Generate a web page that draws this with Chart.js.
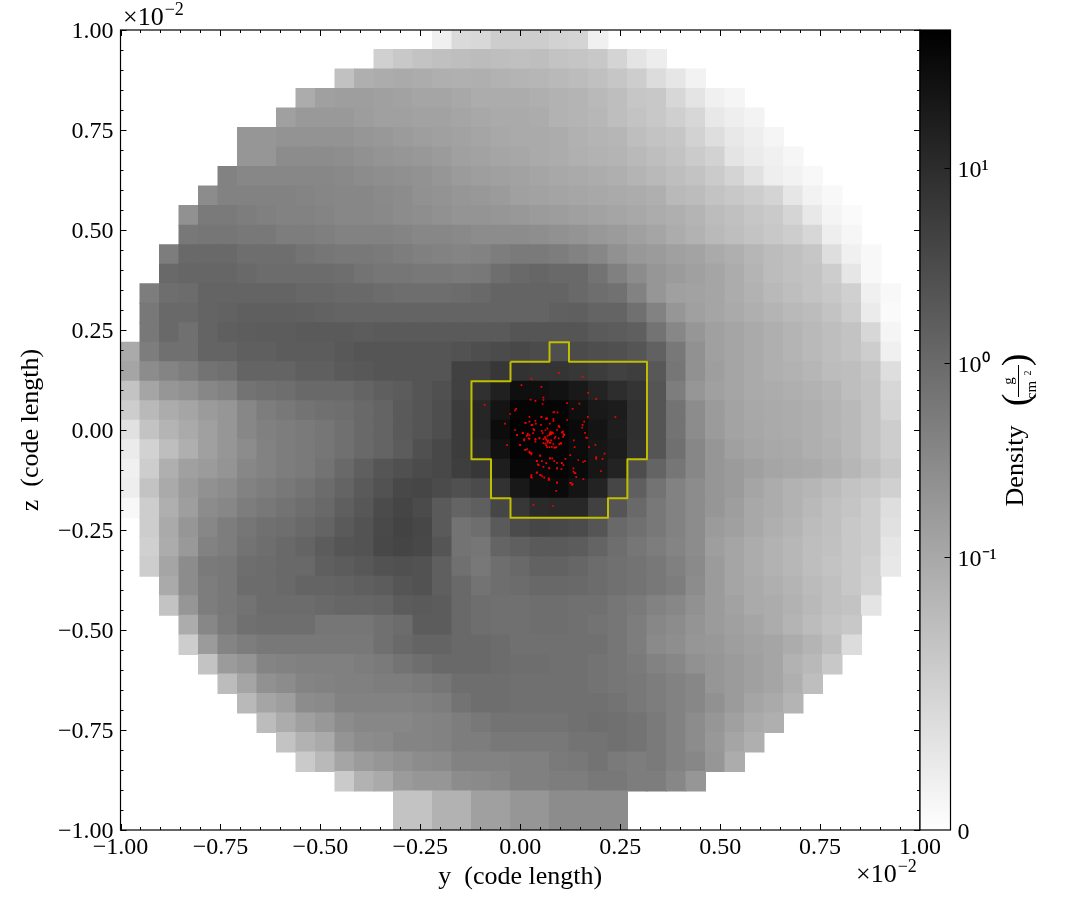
<!DOCTYPE html>
<html>
<head>
<meta charset="utf-8">
<title>Density projection</title>
<script src="https://cdn.jsdelivr.net/npm/chart.js@4"></script>
<style>
  html, body { margin: 0; padding: 0; background: #fff; }
  canvas { position: absolute; left: 0; top: 0; }
  #colorbar { pointer-events: none; }
</style>
</head>
<body>
<canvas id="slice" width="1085" height="920"></canvas>
<canvas id="colorbar" width="1085" height="920"></canvas>
<script>
// grid of the projection, 41 x 41 cells over -1..1 (x 10^-2 code length)
const gridSize = 41;

// first filled column of every row, top row first
const rowStarts = [16,13,11,9,8,6,6,5,4,3,3,2,2,1,1,1,0,0,0,0,0,0,0,0,0,1,1,1,2,2,3,3,4,5,6,7,8,9,11,14,14];

// density per cell, read as position on the colour bar (0 = white, 255 = black)
const densityLevels = [
  [15,37,39,50,50,50,45,43,15],
  [47,55,60,63,65,67,65,63,65,60,58,55,43,27,18],
  [62,80,83,85,83,80,79,80,77,75,73,70,67,63,57,50,35,25,13],
  [83,95,97,97,95,93,90,90,87,83,83,83,80,77,75,70,65,57,55,40,27,15,10],
  [95,102,102,102,98,95,95,93,93,90,87,85,85,83,77,75,72,65,60,55,48,40,23,17,12],
  [105,105,108,108,108,108,105,103,100,97,95,93,90,87,85,85,83,78,75,73,65,60,57,45,33,23,17,10],
  [105,105,115,115,115,113,110,107,105,103,100,95,93,90,88,85,83,79,77,75,70,65,60,52,45,27,20,15,9],
  [125,120,120,120,120,120,118,115,113,111,109,105,100,97,95,93,90,87,85,83,80,75,70,65,60,52,43,30,17,13,7],
  [115,125,125,125,125,123,121,120,120,117,115,110,108,105,103,100,95,93,91,89,87,85,83,80,70,67,60,55,50,43,25,13,7],
  [110,133,133,130,127,125,125,123,120,120,118,115,113,110,107,107,105,103,100,98,95,93,90,87,83,80,75,67,63,57,53,42,23,11,5],
  [135,137,137,135,135,130,130,128,125,125,125,123,120,120,118,115,115,115,113,110,107,103,100,95,90,83,77,70,65,60,55,50,40,17,9],
  [130,150,150,150,145,145,145,140,137,135,135,133,130,127,125,123,125,130,133,133,130,125,120,110,103,100,95,92,85,80,73,67,63,57,33,15,7],
  [150,153,153,153,150,147,147,147,147,145,140,137,137,135,135,133,135,145,150,153,150,150,140,127,115,105,100,95,90,83,75,67,63,60,50,25,7],
  [130,145,147,155,155,155,155,155,152,152,150,150,147,145,145,145,147,150,155,155,155,155,150,145,142,125,105,95,93,90,83,77,70,65,60,55,47,15,7],
  [135,150,150,155,157,160,160,160,159,157,155,155,155,155,155,155,155,155,155,155,155,159,160,155,155,143,125,105,95,90,85,80,75,70,67,60,50,20,5],
  [135,150,143,155,160,162,163,163,165,165,165,163,165,165,165,165,165,165,165,170,170,170,170,165,163,160,140,120,105,95,90,85,80,75,70,65,60,40,10],
  [85,130,143,143,155,155,160,160,163,163,163,167,170,170,170,170,170,173,177,180,183,180,177,180,177,175,170,158,135,110,95,90,85,80,75,70,65,60,50,15],
  [90,115,123,130,140,143,155,155,155,160,160,165,167,170,170,170,170,190,190,200,205,203,203,200,195,190,193,167,137,110,97,90,85,80,77,73,67,65,58,33],
  [60,90,105,110,120,125,140,143,145,150,150,150,155,160,163,170,175,190,207,223,240,240,237,230,220,210,203,170,130,105,95,90,85,83,80,77,73,65,60,40],
  [50,70,83,90,100,105,120,130,135,140,143,145,150,155,165,170,177,195,217,235,250,250,250,240,230,227,207,170,140,115,100,92,87,85,83,80,75,70,60,43],
  [30,60,75,85,95,105,120,127,130,133,137,143,150,155,165,170,177,195,217,243,253,253,252,245,235,225,207,170,140,115,100,92,88,85,83,80,75,70,60,50],
  [20,45,65,80,95,105,115,125,130,133,137,143,150,155,163,175,183,195,213,237,252,252,250,243,233,227,205,170,143,120,105,95,90,87,85,80,77,70,60,50],
  [15,50,80,95,100,107,120,125,130,133,140,150,160,170,175,180,183,193,200,225,247,247,250,245,233,220,178,155,137,120,105,100,95,90,87,85,80,73,65,55],
  [17,60,85,100,110,115,125,130,135,140,147,155,165,173,183,185,180,175,180,205,230,243,245,235,220,185,160,140,125,115,105,100,90,83,77,73,67,60,55,47],
  [7,50,80,97,115,120,130,135,140,145,150,160,168,180,186,180,165,155,160,185,200,213,215,215,190,170,150,135,125,115,105,97,87,83,77,70,63,58,50,33],
  [50,85,105,120,130,137,143,145,150,155,165,172,182,188,184,165,140,145,165,180,185,183,180,170,150,143,135,125,115,100,95,87,80,75,67,63,55,50,30],
  [47,83,102,125,130,140,145,150,155,163,170,172,183,186,183,170,140,137,155,160,165,165,163,155,145,137,130,123,115,97,90,83,77,72,65,62,55,50,25],
  [50,90,115,133,135,145,147,150,150,160,163,167,173,175,173,160,143,135,145,150,157,157,153,147,143,140,135,127,117,100,90,83,77,72,65,60,55,47,23],
  [85,115,130,135,147,147,150,155,155,157,160,163,170,173,160,150,140,145,147,151,151,150,147,143,140,135,130,115,100,90,85,80,75,68,63,55,45],
  [60,105,130,135,140,147,147,147,150,153,153,155,163,165,163,150,145,143,143,145,145,143,143,137,133,125,120,110,100,93,85,83,77,70,63,60,27],
  [83,120,133,143,145,145,145,137,137,137,143,147,163,163,150,145,143,143,145,145,143,140,137,130,120,115,107,100,95,90,83,75,67,60,55],
  [50,100,123,130,135,135,135,135,135,135,143,150,155,155,150,150,147,143,143,143,143,143,137,130,117,113,105,103,97,93,90,83,75,65,35],
  [60,100,107,123,125,127,127,127,130,133,140,145,150,150,150,147,145,145,143,143,140,137,133,125,120,110,105,100,95,90,77,70,55],
  [67,90,110,115,123,125,127,127,130,130,133,137,145,145,145,143,143,143,143,140,137,135,130,125,120,105,100,95,90,80,65],
  [70,90,97,115,117,125,125,125,125,127,130,140,145,145,143,143,143,143,143,140,135,130,125,120,110,100,90,85,75],
  [67,83,95,103,115,120,120,120,123,125,130,135,140,140,140,140,143,145,143,140,133,125,115,105,95,85,80],
  [60,77,85,107,115,117,123,123,125,130,130,135,135,135,135,140,140,143,140,133,125,115,103,90,80],
  [53,70,90,100,105,110,115,117,125,125,125,127,127,133,135,140,133,130,133,125,120,105,83],
  [53,77,85,100,105,105,115,117,120,127,127,130,130,135,135,130,130,120,105],
  [60,60,77,77,95,95,105,105,115,115,115,115],
  [60,60,77,77,95,95,105,105,115,115,115,115]
];

// yellow contour, corners in the same units as the axes
const contourY = [-0.0244,0.0732,0.0732,0.122,0.122,0.317,0.317,0.268,0.268,0.2195,0.2195,-0.0244,-0.0244,-0.0732,-0.0732,-0.122,-0.122,-0.0244,-0.0244];
const contourZ = [0.1707,0.1707,0.2195,0.2195,0.1707,0.1707,-0.0732,-0.0732,-0.1707,-0.1707,-0.2195,-0.2195,-0.1707,-0.1707,-0.0732,-0.0732,0.122,0.122,0.1707];

// red particles
const particleY = [.097,.028,.156,.003,.053,.170,.190,.058,.058,.026,.038,.056,-.089,.117,.148,.131,-.010,-.013,-.025,.169,.238,.023,.053,.067,.065,.085,.093,.083,.083,.160,.117,-.038,.013,.023,.038,.039,.052,.028,.074,.097,.156,.155,-.013,.006,-.008,.019,.023,.016,.010,.010,.023,.038,.048,.035,.033,.054,.063,.076,.078,.073,.068,.062,.058,.065,.070,.077,.073,.068,.063,.086,.096,.098,.102,.104,.108,.110,.162,.165,.168,.134,-.033,-.001,.038,.188,.172,.136,.125,.017,.012,.023,.028,.028,.050,.067,.073,.085,.090,.113,.074,.080,.054,.065,.041,.044,.092,.104,.092,.103,.145,.157,.162,.190,.190,.206,.211,.202,.072,.041,.028,.029,.051,.055,.060,.071,.073,.133,.136,.140,.158,.092,.125,.130,.090,.033,.082,.075,.077,.079,.074,
  .063,.068,.075,.083,.098,.102,.088,.079,.065,.058,.056,.048,.038,.018,.021,.010,.007,-.008,.032,.035,.030,.013,.053,.065,.083,.096,.098,.092,.107,.110,.107,.068,.082,.088,.025,.013,.023,0,.050,.042,.046,.058,.075,.085,.104,.108,.073,.092,.050,.027,.042,.133,.138,.127,.131,.092,.071,.076,.079,.075];
const particleZ = [.143,.128,.133,.112,.108,.093,.078,.081,.075,.076,.073,.065,.063,.067,.066,.053,.053,.049,.040,.033,.032,.033,.033,.029,.028,.045,.044,.028,.023,.021,.025,.016,.018,.021,.023,.016,.013,.012,.016,.010,.013,.006,0,-.008,-.013,-.009,-.013,-.015,-.023,-.026,-.022,-.024,-.021,0,.002,-.002,0,-.008,-.009,-.013,-.015,-.018,-.023,-.024,-.026,-.026,-.031,-.031,-.034,-.021,-.021,-.036,-.034,-.006,-.009,-.013,-.007,-.019,-.020,-.026,-.038,-.038,-.029,-.037,-.043,-.043,-.063,-.048,-.050,-.056,-.058,-.061,-.064,-.043,-.043,-.044,-.043,-.072,-.071,-.071,-.078,-.083,-.077,-.086,-.082,-.083,-.096,-.098,-.075,-.080,-.078,-.068,-.072,-.072,-.059,-.103,-.095,-.107,-.113,-.119,-.113,-.116,-.119,-.121,-.124,-.104,-.108,-.118,-.123,-.132,-.132,-.137,-.152,-.187,-.190,-.006,-.010,-.006,-.010,
  -.021,-.027,-.032,-.035,-.035,-.032,-.044,-.042,-.038,-.033,-.008,-.020,-.023,-.013,-.021,-.025,-.008,-.013,-.008,0,.013,.018,.032,.029,.044,.010,.007,0,-.004,-.013,-.017,.004,-.008,-.017,-.058,-.050,-.054,-.038,-.064,-.078,-.088,-.092,-.071,-.078,-.083,-.088,-.096,-.096,-.113,-.117,-.106,-.096,-.108,-.132,-.135,-.131,-.125,-.006,-.009,-.009];

// axis ticks
const majorTicks = [-1,-0.75,-0.5,-0.25,0,0.25,0.5,0.75,1];
const minorTicks = [-0.95,-0.9,-0.85,-0.8,-0.7,-0.65,-0.6,-0.55,-0.45,-0.4,-0.35,-0.3,-0.2,-0.15,-0.1,-0.05,0.05,0.1,0.15,0.2,0.3,0.35,0.4,0.45,0.55,0.6,0.65,0.7,0.8,0.85,0.9,0.95];

// colour bar ticks, in colour bar levels
const colorbarTicks = [0,87,149,211];
const colorbarLabels = ['0','10\u207B\u00B9','10\u2070','10\u00B9'];

const serif = '"Liberation Serif", serif';
Chart.defaults.font.family = serif;
Chart.defaults.color = '#000';
Chart.defaults.animation = false;

var cells = [];
densityLevels.forEach(function (row, r) {
  row.forEach(function (level, c) {
    cells.push({
      x: -1 + (rowStarts[r] + c + 0.5) * 2 / gridSize,
      y: 1 - (r + 0.5) * 2 / gridSize,
      level: level
    });
  });
});

function pairs(xs, ys) {
  return xs.map(function (v, i) { return { x: v, y: ys[i] }; });
}

function tickText(v) {
  return v.toFixed(2).replace('-', '\u2212');
}

// matplotlib style frame: all four spines with ticks pointing inside
var sliceFrame = {
  id: 'sliceFrame',
  afterDatasetsDraw: function (chart) {
    var ctx = chart.ctx, a = chart.chartArea;
    var sx = chart.scales.x, sy = chart.scales.y;
    ctx.save();
    ctx.strokeStyle = '#000';
    ctx.lineWidth = 1;
    function marks(list, len) {
      list.forEach(function (t) {
        var px = Math.round(sx.getPixelForValue(t)) + 0.5;
        var py = Math.round(sy.getPixelForValue(t)) + 0.5;
        ctx.beginPath();
        ctx.moveTo(px, a.bottom); ctx.lineTo(px, a.bottom - len);
        ctx.moveTo(px, a.top); ctx.lineTo(px, a.top + len);
        ctx.moveTo(a.left, py); ctx.lineTo(a.left + len, py);
        ctx.moveTo(a.right, py); ctx.lineTo(a.right - len, py);
        ctx.stroke();
      });
    }
    marks(majorTicks, 6);
    marks(minorTicks, 3);
    ctx.lineWidth = 1.2;
    ctx.strokeRect(a.left, a.top, a.right - a.left, a.bottom - a.top);

    // offset text of both axes
    ctx.fillStyle = '#000';
    ctx.textBaseline = 'alphabetic';
    ctx.textAlign = 'left';
    function offsetText(x, y) {
      ctx.font = '26px ' + serif;
      ctx.fillText('\u00D710', x, y);
      var w = ctx.measureText('\u00D710').width;
      ctx.font = '18px ' + serif;
      ctx.fillText('\u22122', x + w + 1, y - 10);
    }
    offsetText(123, 25);
    offsetText(856, 882);
    ctx.restore();
  }
};

var barFrame = {
  id: 'barFrame',
  afterDatasetsDraw: function (chart) {
    var ctx = chart.ctx, a = chart.chartArea, sy = chart.scales.y;
    ctx.save();
    ctx.strokeStyle = '#000';
    ctx.lineWidth = 1;
    colorbarTicks.slice(1).forEach(function (t) {
      var py = Math.round(sy.getPixelForValue(t)) + 0.5;
      ctx.beginPath();
      ctx.moveTo(a.right, py); ctx.lineTo(a.right - 6, py);
      ctx.stroke();
    });
    ctx.lineWidth = 1.2;
    ctx.strokeRect(a.left, a.top, a.right - a.left, a.bottom - a.top);

    // rotated label with the unit as a fraction
    ctx.translate(1023, 0);
    ctx.rotate(-Math.PI / 2);
    ctx.fillStyle = '#000';
    ctx.textBaseline = 'alphabetic';
    ctx.textAlign = 'center';
    ctx.font = '26px ' + serif;
    ctx.fillText('Density', -466, 0);
    ctx.font = '38px ' + serif;
    ctx.fillText('(', -400, 5);
    ctx.fillText(')', -360, 5);
    ctx.font = '15px ' + serif;
    ctx.fillText('g', -381, -10);
    ctx.fillText('cm', -390, 13);
    ctx.font = '10px ' + serif;
    ctx.fillText('2', -373, 8);
    ctx.fillRect(-397, -5, 32, 1);
    ctx.restore();
  }
};

new Chart(document.getElementById('slice'), {
  type: 'scatter',
  data: {
    datasets: [
      {
        data: pairs(particleY, particleZ),
        order: 0,
        pointStyle: 'rect',
        pointRadius: 1.2,
        pointBorderWidth: 0,
        backgroundColor: '#f80000'
      },
      {
        data: pairs(contourY, contourZ),
        order: 1,
        showLine: true,
        pointRadius: 0,
        borderColor: '#bfbf00',
        borderWidth: 2,
        borderJoinStyle: 'round'
      },
      {
        data: cells,
        order: 2,
        pointStyle: 'rect',
        pointBorderWidth: 0,
        pointRadius: function (c) {
          var a = c.chart.chartArea;
          var side = (a ? a.width : 799) / gridSize + 1;
          return side * Math.SQRT1_2;
        },
        backgroundColor: function (c) {
          if (!c.raw) return '#888';
          var g = 255 - c.raw.level;
          return 'rgb(' + g + ',' + g + ',' + g + ')';
        }
      }
    ]
  },
  options: {
    responsive: false,
    devicePixelRatio: 1,
    layout: { padding: { left: 0, top: 30, right: 165, bottom: 0 } },
    plugins: { legend: { display: false }, tooltip: { enabled: false } },
    scales: {
      x: {
        type: 'linear',
        min: -1,
        max: 1,
        afterFit: function (s) { s.height = 90; },
        grid: { display: false, drawTicks: false },
        border: { display: false },
        ticks: {
          stepSize: 0.25,
          autoSkip: false,
          maxRotation: 0,
          padding: 3,
          font: { size: 24 },
          callback: tickText
        },
        title: {
          display: true,
          text: 'y  (code length)',
          font: { size: 26 },
          padding: { top: 0, bottom: 27 }
        }
      },
      y: {
        type: 'linear',
        min: -1,
        max: 1,
        afterFit: function (s) { s.width = 120.5; },
        grid: { display: false, drawTicks: false },
        border: { display: false },
        ticks: {
          stepSize: 0.25,
          autoSkip: false,
          padding: 7,
          labelOffset: 1.5,
          font: { size: 24 },
          callback: tickText
        },
        title: {
          display: true,
          text: 'z  (code length)',
          font: { size: 26 },
          padding: { top: 16, bottom: 0 }
        }
      }
    }
  },
  plugins: [sliceFrame]
});

new Chart(document.getElementById('colorbar'), {
  type: 'bar',
  data: {
    labels: [''],
    datasets: [{
      data: [[0, 255]],
      barPercentage: 1,
      categoryPercentage: 1,
      backgroundColor: function (c) {
        var a = c.chart.chartArea;
        if (!a) return '#888';
        var grad = c.chart.ctx.createLinearGradient(0, a.bottom, 0, a.top);
        grad.addColorStop(0, '#ffffff');
        grad.addColorStop(1, '#000000');
        return grad;
      }
    }]
  },
  options: {
    responsive: false,
    devicePixelRatio: 1,
    layout: { padding: { left: 920, top: 30, right: 0, bottom: 90 } },
    plugins: { legend: { display: false }, tooltip: { enabled: false } },
    scales: {
      x: { display: false },
      y: {
        position: 'right',
        min: 0,
        max: 255,
        afterFit: function (s) { s.width = 134.5; },
        afterBuildTicks: function (s) {
          s.ticks = colorbarTicks.map(function (v) { return { value: v }; });
        },
        grid: { display: false, drawTicks: false },
        border: { display: false },
        ticks: {
          autoSkip: false,
          padding: 7,
          labelOffset: 3,
          font: { size: 24 },
          callback: function (v) { return colorbarLabels[colorbarTicks.indexOf(v)]; }
        }
      }
    }
  },
  plugins: [barFrame]
});
</script>
</body>
</html>
